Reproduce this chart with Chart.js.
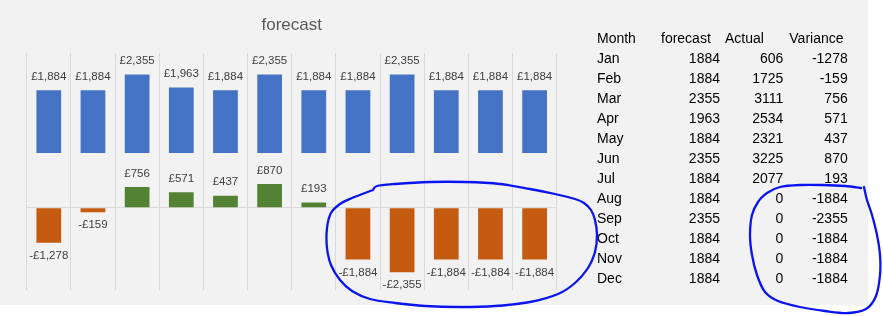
<!DOCTYPE html>
<html><head><meta charset="utf-8">
<script src="https://cdn.jsdelivr.net/npm/chart.js@4.4.1/dist/chart.umd.min.js"></script>
<style>
html,body{margin:0;padding:0;background:#fff;width:883px;height:316px;overflow:hidden;}
#bg{position:absolute;left:0;top:0;width:868px;height:305px;background:#f2f2f2;}
#wrap{position:absolute;left:0;top:0;width:600px;height:305px;}
#tbl div{position:absolute;font:14px "Liberation Sans",Arial,sans-serif;color:#000;line-height:20px;white-space:nowrap;}
#ink{position:absolute;left:0;top:0;}
</style></head><body>
<div id="bg"></div>
<div id="wrap"><canvas id="c" width="600" height="305"></canvas></div>
<div id="tbl"></div>
<svg id="ink" width="883" height="316"></svg>
<script>
const months = ['Jan','Feb','Mar','Apr','May','Jun','Jul','Aug','Sep','Oct','Nov','Dec'];
const forecast = [1884,1884,2355,1963,1884,2355,1884,1884,2355,1884,1884,1884];
const actual = [606,1725,3111,2534,2321,3225,2077,0,0,0,0,0];
const variance = [-1278,-159,756,571,437,870,193,-1884,-2355,-1884,-1884,-1884];
const tableHeaders = ['Month','forecast','Actual','Variance'];
const chartTitle = 'forecast';

const withCommas = n => String(Math.abs(n)).replace(/\B(?=(\d{3})+(?!\d))/g, ',');

const labelPlugin = {
  id: 'dl',
  afterDatasetsDraw(chart) {
    const ctx = chart.ctx;
    ctx.save();
    ctx.font = '11.5px "Liberation Sans", Arial, sans-serif';
    ctx.fillStyle = '#404040';
    ctx.textAlign = 'center';
    ctx.textBaseline = 'middle';
    chart.data.datasets.forEach((ds, i) => {
      chart.getDatasetMeta(i).data.forEach((bar, j) => {
        const v = ds.data[j];
        const t = (v < 0 ? '-£' : '£') + withCommas(v);
        const y = v < 0 ? bar.y + 13 : bar.y - 13.5;
        ctx.fillText(t, bar.x, y);
      });
    });
    ctx.restore();
  }
};

new Chart(document.getElementById('c'), {
  type: 'bar',
  data: {
    labels: months,
    datasets: [
      {label: 'forecast', data: forecast, yAxisID: 'y', backgroundColor: '#4472c4', grouped: false, barPercentage: 0.56, categoryPercentage: 1},
      {label: 'Variance', data: variance, yAxisID: 'y2', backgroundColor: variance.map(v => v < 0 ? '#c55a11' : '#548235'), grouped: false, barPercentage: 0.56, categoryPercentage: 1}
    ]
  },
  options: {
    responsive: false, animation: false,
    layout: {padding: {left: 26.7, right: 43.3, top: 0, bottom: 15}},
    plugins: {
      legend: {display: false}, tooltip: {enabled: false},
      title: {display: true, text: chartTitle, color: '#595959',
        font: {family: '"Liberation Sans", Arial, sans-serif', size: 17, weight: 'normal'},
        padding: {top: 15.5, bottom: 17.1}}
    },
    scales: {
      x: {grid: {color: '#d9d9d9', drawTicks: false, offset: true}, ticks: {display: false}, border: {display: false}},
      y: {stack: 's', stackWeight: 100, weight: 2, min: 0, max: 3000, grid: {display: false, drawTicks: false}, ticks: {display: false}, border: {display: false}},
      y2: {stack: 's', stackWeight: 137, weight: 1, min: -3000, max: 2000,
        grid: {color: c => c.tick && c.tick.value === 0 ? '#d9d9d9' : 'rgba(0,0,0,0)', drawTicks: false},
        ticks: {display: false}, border: {display: false}}
    }
  },
  plugins: [labelPlugin]
});

// table
const tbl = document.getElementById('tbl');
function cell(text, x, cy, alignRight) {
  const d = document.createElement('div');
  d.textContent = text;
  d.style.top = (cy - 10) + 'px';
  if (alignRight) { d.style.right = (883 - x) + 'px'; } else { d.style.left = x + 'px'; }
  tbl.appendChild(d);
}
const headLeft = [597, 661, 725, 789.3];
const colRight = [720, 783.3, 847.7];
tableHeaders.forEach((h, i) => cell(h, headLeft[i], 37.5, false));
months.forEach((m, i) => {
  const cy = 57.7 + 20 * i;
  cell(m, 597, cy, false);
  cell(String(forecast[i]), colRight[0], cy, true);
  cell(String(actual[i]), colRight[1], cy, true);
  cell(String(variance[i]), colRight[2], cy, true);
});

// hand-drawn annotation rings
function smoothPath(p) {
  let d = 'M' + p[0][0] + ',' + p[0][1];
  for (let i = 0; i < p.length - 1; i++) {
    const p0 = p[i - 1] || p[i], p1 = p[i], p2 = p[i + 1], p3 = p[i + 2] || p2;
    const c1 = [p1[0] + (p2[0] - p0[0]) / 6, p1[1] + (p2[1] - p0[1]) / 6];
    const c2 = [p2[0] - (p3[0] - p1[0]) / 6, p2[1] - (p3[1] - p1[1]) / 6];
    d += ' C' + c1.join(',') + ' ' + c2.join(',') + ' ' + p2.join(',');
  }
  return d;
}
const ring1 = [[373,190],[377,186],[395,184],[430,182],[465,182],[500,184],[530,189],[555,194],[575,199],[584,203],[591,210],[595,220],[597,235],[595,252],[588,268],[575,283],[558,294],[530,302],[495,306],[460,307],[425,306],[395,303],[370,299],[352,291],[340,280],[331,265],[327,248],[327,228],[331,213],[340,204],[352,198],[365,193],[373,190]];
const ring2 = [[861,188],[845,186],[823,185],[800,185],[780,187],[767,193],[758,202],[752,215],[750,235],[752,255],[757,275],[765,292],[778,301],[800,307],[825,311],[848,313],[866,309],[876,296],[880,275],[880,255],[877,235],[872,215],[867,200],[864,187]];
const svg = document.getElementById('ink');
[ring1, ring2].forEach(r => {
  const path = document.createElementNS('http://www.w3.org/2000/svg', 'path');
  path.setAttribute('d', smoothPath(r));
  path.setAttribute('fill', 'none');
  path.setAttribute('stroke', '#0a14f0');
  path.setAttribute('stroke-width', '2.3');
  path.setAttribute('stroke-linecap', 'round');
  path.setAttribute('stroke-linejoin', 'round');
  svg.appendChild(path);
});
</script>
</body></html>
